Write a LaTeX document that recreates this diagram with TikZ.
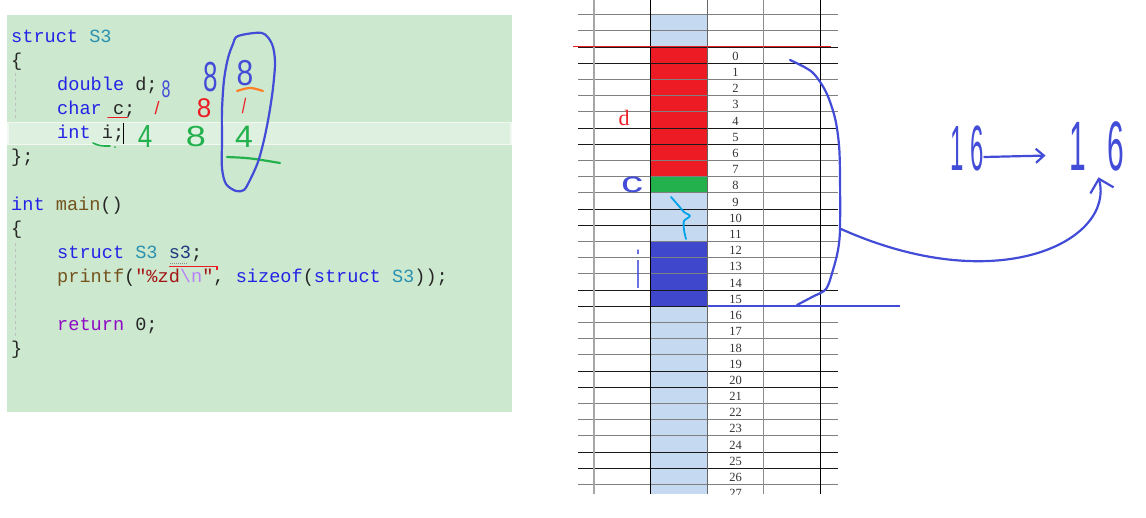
\documentclass[tikz,border=0pt]{standalone}
\usepackage{fontspec}
\setmonofont{Liberation Mono}
\newfontfamily\handfont{Liberation Sans}
\newfontfamily\cellfont{Liberation Serif}
\usetikzlibrary{arrows.meta}

\definecolor{panelgreen}{RGB}{204,232,207}
\definecolor{linegreen}{RGB}{222,240,223}
\definecolor{kwblue}{RGB}{35,35,230}
\definecolor{typeteal}{RGB}{43,145,175}
\definecolor{funcbrown}{RGB}{116,83,31}
\definecolor{strred}{RGB}{163,21,21}
\definecolor{escpurple}{RGB}{183,130,245}
\definecolor{retpurple}{RGB}{143,8,196}
\definecolor{varnavy}{RGB}{31,55,127}
\definecolor{cellblue}{RGB}{197,217,241}
\definecolor{cellred}{RGB}{237,28,36}
\definecolor{cellgreen}{RGB}{34,177,76}
\definecolor{cellindigo}{RGB}{63,72,204}
\definecolor{inkblue}{RGB}{66,76,214}
\definecolor{inkcyan}{RGB}{0,162,232}
\definecolor{inkorange}{RGB}{255,127,39}

\newcommand\ckw[1]{\textcolor{kwblue}{#1}}
\newcommand\cty[1]{\textcolor{typeteal}{#1}}
\newcommand\cfn[1]{\textcolor{funcbrown}{#1}}
\newcommand\cstr[1]{\textcolor{strred}{#1}}
\newcommand\cesc[1]{\textcolor{escpurple}{#1}}
\newcommand\cret[1]{\textcolor{retpurple}{#1}}
\newcommand\cvar[1]{\textcolor{varnavy}{#1}}

\begin{document}
\begin{tikzpicture}[x=1pt,y=-1pt,
  codeline/.style={anchor=base west,inner sep=0pt,text=black!85,font=\fontsize{18.6}{20}\ttfamily},
  cellnum/.style={inner sep=0pt,text=black!80,font=\fontsize{12.5}{13}\cellfont},
  hand/.style={inner sep=0pt,font=\fontsize{20}{20}\handfont},
  pen/.style={line width=2.2pt,line cap=round,line join=round}]
\useasboundingbox (0,0) rectangle (1146,517);

% code panel
\fill[panelgreen] (7,15) rectangle (512,412);
\draw[line width=1.5pt,draw=white!55!linegreen,fill=linegreen] (8,122.5) rectangle (511,144.5);
\draw[black!25,dashed] (15,73) -- (15,121) (15,243) -- (15,337);

% code lines
\node[codeline] (c1) at (11,42.5) {\ckw{struct} \cty{S3}};
\node[codeline] (c2) at (11,66.5) {\{};
\node[codeline] (c3) at (57,90.5) {\ckw{double} d;};
\node[codeline] (c4) at (57,114.5) {\ckw{char} c;};
\node[codeline] (c5) at (57,138.5) {\ckw{int} i;};
\node[codeline] (c6) at (11,162.5) {\};};
\node[codeline] (c7) at (11,210.5) {\ckw{int} \cfn{main}()};
\node[codeline] (c8) at (11,234.5) {\{};
\node[codeline] (c9) at (57,258.5) {\ckw{struct} \cty{S3} \cvar{s3};};
\node[codeline] (c10) at (57,282.5) {\cfn{printf}(\cstr{"\%zd}\cesc{\textbackslash n}\cstr{"}, \ckw{sizeof}(\ckw{struct} \cty{S3}));};
\node[codeline] (c11) at (57,330.5) {\cret{return} 0;};
\node[codeline] (c12) at (11,354.5) {\}};

% cursor and editor marks
\draw[black] (123,122.5) -- (123,143.5);
\draw[cellred,line width=1.5pt] (169,266.5) -- (217,266.5) -- (217,270);
\draw[black!45,densely dotted,line width=1pt] (170,263) -- (188,263);

% handwriting on the code
\draw[pen,cellred,line width=1.6pt] (108,117.5) -- (127,117.5);
\draw[pen,cellgreen,line width=1.6pt] (93,143) .. controls (100,146) .. (110,146);
\fill[cellgreen] (115,147) circle (1pt);
\node[hand,text=inkblue,xscale=0.8,yscale=1.2] (d1) at (166,89) {8};
\node[hand,text=cellred,xscale=0.9,yscale=0.9] (c1n) at (157,108) {/};
\node[hand,text=cellgreen,xscale=1.3,yscale=1.6] (i1) at (145,136) {4};
\node[hand,text=inkblue,xscale=1.3,yscale=2.1] (d2) at (211,77) {8};
\node[hand,text=cellred,xscale=1.3,yscale=1.35] (c2n) at (204,108) {8};
\node[hand,text=cellgreen,xscale=1.8,yscale=1.45] (i2) at (196,137) {8};
\node[hand,text=inkblue,xscale=1.5,yscale=1.8] (d3) at (245,73) {8};
\node[hand,text=cellred,xscale=0.8,yscale=1.05] (c3n) at (244,106) {/};
\node[hand,text=cellgreen,xscale=1.6,yscale=1.55] (i3) at (244,137) {4};
\draw[pen,inkorange] (237,91) .. controls (250,87) .. (263,91);
\draw[pen,cellgreen] (227,157) .. controls (250,158) .. (280,163);
\draw[pen,inkblue] plot[smooth cycle] coordinates {(238,36) (262,33) (272,44) (275,62) (273,88) (269,115) (264,140) (258,162) (250,180) (244,190) (236,191) (226,184) (222,168) (222,140) (222,110) (224,80) (228,58) (233,44)};

% memory table
\fill[cellblue] (650,14.3) rectangle (707.5,494);
\fill[cellred] (650,46.7) rectangle (707.5,176.3);
\fill[cellgreen] (650,176.3) rectangle (707.5,192.5);
\fill[cellindigo] (650,241.1) rectangle (707.5,305.9);
\foreach \j in {-2,...,27}{
  \pgfmathtruncatemacro\shade{ifthenelse(mod(\j+10,5)<2,90,50)}
  \draw[black!\shade] (578,46.7+16.2*\j) -- (838,46.7+16.2*\j);
}
\draw[black!35,line width=1.5pt] (594,0) -- (594,494);
\draw[black] (650,0) -- (650,494);
\draw[black!60] (707.5,0) -- (707.5,494);
\draw[black!45] (763,0) -- (763,494);
\draw[black] (820,0) -- (820,494);
\begin{scope}
\clip (578,0) rectangle (838,494);
\foreach \r in {0,...,27}
  \node[cellnum] (n\r) at (735.5,46.7+16.2*\r+9.6) {\r};
\end{scope}
\draw[cellred,line width=1.5pt] (573,46.7) -- (831,46.7);
\node[inner sep=0pt,text=cellred,font=\fontsize{22}{22}\cellfont] (dname) at (624,118) {d};

% handwriting on the table
\node[hand,text=inkblue,xscale=2.2,yscale=1.45] (cname) at (632,185) {c};
\node[hand,text=inkblue,xscale=0.9,yscale=2.65] (iname) at (638,269) {i};
\draw[pen,inkcyan,line width=1.8pt] plot[smooth] coordinates {(671,197) (678,205) (684,212) (690,216) (684,221) (684,230) (686,239)};
\draw[inkblue,line width=2pt] (708,305.7) -- (900,305.7);
\draw[pen,inkblue] plot[smooth] coordinates {(790,60) (812,72) (826,92) (835,118) (839,145) (840,175) (840,229) (838,250) (833,270) (826,289) (812,297) (797,305)};
\coordinate (brace) at (841,229);

% total size
\node[hand,text=inkblue,xscale=1.2,yscale=3.2] (lenA) at (967,148) {1\kern6pt6};
\node[hand,text=inkblue,xscale=1.5,yscale=3.5] (lenB) at (1097,146) {1\kern14pt6};
\draw[pen,inkblue,-{Straight Barb[length=8pt,width=14pt]},shorten >=24pt] ([yshift=-9pt]lenA.east) -- ([yshift=-9pt]lenB.west);
\draw[pen,inkblue,-{Straight Barb[length=12pt,width=24pt]},shorten >=6pt] (brace) .. controls (1000,300) and (1115,240) .. (lenB.south);
\end{tikzpicture}
\end{document}
